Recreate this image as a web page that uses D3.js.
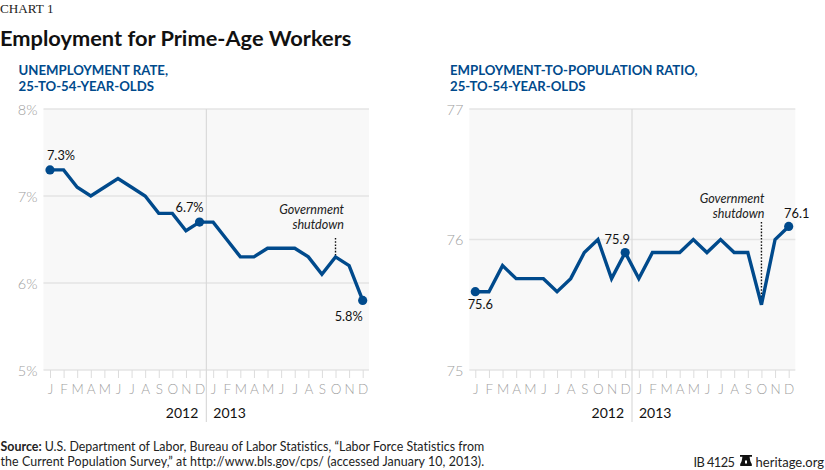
<!DOCTYPE html>
<html><head><meta charset="utf-8">
<script src="https://cdnjs.cloudflare.com/ajax/libs/d3/7.8.5/d3.min.js"></script>
<style>
html,body{margin:0;padding:0;background:#fff}
svg{display:block}
text{font-family:Lato,sans-serif}
</style></head><body>
<svg id="c" width="825" height="470"></svg>
<script>
const months = ["J","F","M","A","M","J","J","A","S","O","N","D","J","F","M","A","M","J","J","A","S","O","N","D"];
const unemployment = [7.3,7.3,7.1,7.0,7.1,7.2,7.1,7.0,6.8,6.8,6.6,6.7,6.7,6.5,6.3,6.3,6.4,6.4,6.4,6.3,6.1,6.3,6.2,5.8];
const employment = [75.6,75.6,75.8,75.7,75.7,75.7,75.6,75.7,75.9,76.0,75.7,75.9,75.7,75.9,75.9,75.9,76.0,75.9,76.0,75.9,75.9,75.5,76.0,76.1];
const unempTicks = [5,6,7,8];
const emplTicks = [75,76,77];
const years = ["2012","2013"];
const shutdownIndex = 21;

const BLUE="#004a8c", GRID="#e4e4e4", BG="#f8f8f8", TICK="#9f9f9f";
const svg=d3.select("#c");
svg.append("text").attr("x",0).attr("y",13).attr("font-size",13.2).attr("fill","#222").style("font-family","'Liberation Serif',serif").text("CHART 1");
svg.append("text").attr("x",0).attr("y",46).attr("font-size",21.8).attr("font-weight",700).attr("fill","#111").text("Employment for Prime-Age Workers");

function panel(o){
  const g=svg.append("g");
  const x=d3.scaleLinear().domain([0,23]).range([o.x0,o.x1]);
  const y=d3.scaleLinear().domain(o.domain).range([370,109]);
  o.title.forEach((t,i)=>g.append("text").attr("x",o.titleX).attr("y",75+i*16.3).attr("font-size",13.2).attr("font-weight",700).attr("fill",BLUE).text(t));
  g.append("rect").attr("x",o.left).attr("y",y.range()[1]).attr("width",o.right-o.left).attr("height",y.range()[0]-y.range()[1]).attr("fill",BG);
  g.selectAll(".gl").data(o.ticks).join("line").attr("x1",o.left).attr("x2",o.right).attr("y1",d=>y(d)).attr("y2",d=>y(d)).attr("stroke",GRID).attr("stroke-width",1.3);
  g.selectAll(".yl").data(o.ticks).join("text").attr("x",o.left-6).attr("y",d=>y(d)+5.5).attr("text-anchor","end").attr("font-size",14.5).attr("font-weight",300).attr("fill","#a0a0a0").text(o.fmt);
  const ax=d3.axisBottom(x).tickValues(d3.range(24)).tickSize(8).tickPadding(6).tickFormat(i=>months[i]);
  const axg=g.append("g").attr("transform","translate(0,370)").call(ax);
  axg.select(".domain").remove();
  axg.selectAll("line").attr("stroke","#dcdcdc").attr("stroke-width",1);
  axg.selectAll("text").attr("font-size",13.5).attr("fill",TICK).attr("font-weight",300).style("font-family","Lato,sans-serif");
  const dx=x(11.5);
  g.append("line").attr("x1",dx).attr("x2",dx).attr("y1",y.range()[1]).attr("y2",422).attr("stroke","#dadada").attr("stroke-width",1.2);
  g.append("text").attr("x",dx-8).attr("y",418).attr("text-anchor","end").attr("font-size",14).attr("fill","#111").text(years[0]);
  g.append("text").attr("x",dx+7).attr("y",418).attr("font-size",14).attr("fill","#111").text(years[1]);
  g.append("line").attr("x1",x(shutdownIndex)).attr("x2",x(shutdownIndex)).attr("y1",o.leaderTop).attr("y2",y(o.values[shutdownIndex])).attr("stroke","#111").attr("stroke-width",1.4).attr("stroke-dasharray","1.6 1.6");
  o.note.forEach((t,i)=>g.append("text").attr("x",x(shutdownIndex)+o.noteDx).attr("y",o.noteY+i*15.2).attr("text-anchor","end").attr("font-size",12.6).attr("font-style","italic").attr("fill","#222").text(t));
  const line=d3.line().x((d,i)=>x(i)).y(d=>y(d));
  g.append("path").datum(o.values).attr("d",line).attr("fill","none").attr("stroke",BLUE).attr("stroke-width",3.4).attr("stroke-linejoin","miter");
  g.selectAll(".pt").data(o.labels).join("circle").attr("cx",d=>x(d.i)).attr("cy",d=>y(o.values[d.i])).attr("r",4.6).attr("fill",BLUE);
  g.selectAll(".pl").data(o.labels).join("text").attr("x",d=>x(d.i)+d.dx).attr("y",d=>y(o.values[d.i])+d.dy).attr("text-anchor","middle").attr("font-size",12.8).attr("fill","#111").text(d=>d.t);
}
panel({x0:50,x1:362.7,left:43.5,right:369,domain:[5,8],ticks:unempTicks,fmt:d=>d+"%",values:unemployment,titleX:18.5,
  title:["UNEMPLOYMENT RATE,","25-TO-54-YEAR-OLDS"],note:["Government","shutdown"],noteDx:8.5,noteY:214,leaderTop:238,
  labels:[{i:0,t:"7.3%",dx:11,dy:-10},{i:11,t:"6.7%",dx:-10,dy:-10},{i:23,t:"5.8%",dx:-14,dy:21}]});
panel({x0:475.3,x1:788.7,left:469.3,right:795.3,domain:[75,77],ticks:emplTicks,fmt:d=>d,values:employment,titleX:450,
  title:["EMPLOYMENT-TO-POPULATION RATIO,","25-TO-54-YEAR-OLDS"],note:["Government","shutdown"],noteDx:3,noteY:203,leaderTop:222,
  labels:[{i:0,t:"75.6",dx:5,dy:17},{i:11,t:"75.9",dx:-8,dy:-9},{i:23,t:"76.1",dx:8,dy:-8}]});

const foot=[[{b:"Source: "},{t:"U.S. Department of Labor, Bureau of Labor Statistics, “Labor Force Statistics from"}],[{t:"the Current Population Survey,” at http://www.bls.gov/cps/ (accessed January 10, 2013)."}]];
foot.forEach((row,i)=>{
  const t=svg.append("text").attr("x",0.5).attr("y",451+i*15.4).attr("font-size",12.4).attr("letter-spacing",i?0.08:0.02).attr("fill","#222");
  row.forEach(s=>{ if(s.b) t.append("tspan").attr("font-weight",700).text(s.b); else t.append("tspan").text(s.t);});
});
svg.append("text").attr("x",693.5).attr("y",466.5).attr("font-size",12.8).attr("letter-spacing",-0.55).attr("fill","#222").text("IB 4125");
svg.append("text").attr("x",824).attr("y",466.5).attr("text-anchor","end").attr("font-size",13).attr("fill","#222").text("heritage.org");
const b=svg.append("g").attr("transform","translate(746,460.5)");
b.append("path").attr("d","M-6,-5.5H6V-3.8H3.6C4,-0.5 4.4,1.5 5.8,3.5V5.5H-5.8V3.5C-4.4,1.5 -4,-0.5 -3.6,-3.8H-6Z").attr("fill","#111");
b.append("rect").attr("x",-1).attr("y",0).attr("width",2).attr("height",3).attr("fill","#fff");
</script>
</body></html>
